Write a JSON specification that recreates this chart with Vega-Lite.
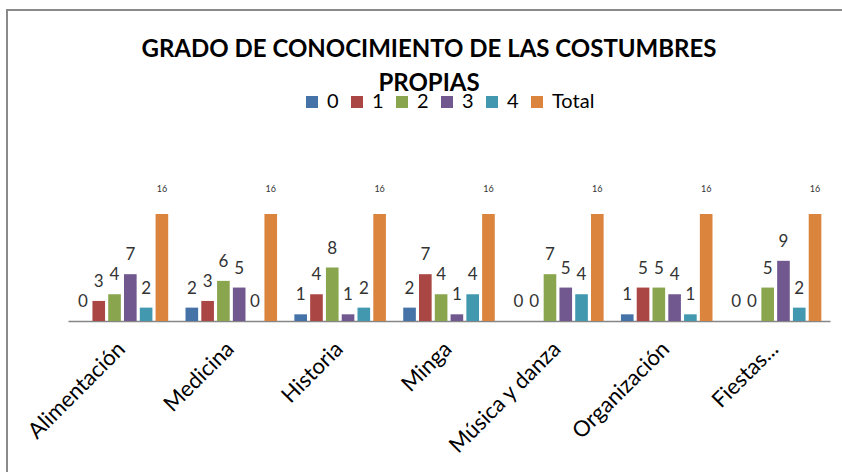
{
  "$schema": "https://vega.github.io/schema/vega-lite/v6.json",
  "autosize": "none",
  "width": 836,
  "height": 463,
  "padding": {"left": 7, "top": 10, "right": 0, "bottom": 0},
  "background": "#ffffff",
  "config": {
    "font": "Lato",
    "view": {"stroke": "#8a8a8a", "strokeWidth": 2}
  },
  "title": {
    "text": ["GRADO DE CONOCIMIENTO DE LAS COSTUMBRES", "PROPIAS"],
    "font": "Lato",
    "fontSize": 24,
    "fontWeight": "bold",
    "color": "#000000",
    "lineHeight": 34,
    "anchor": "middle",
    "frame": "group",
    "baseline": "top",
    "offset": -86,
    "dx": 4
  },
  "data": {
    "values": [
      {"tema": "Alimentación", "serie": "0", "valor": 0},
      {"tema": "Alimentación", "serie": "1", "valor": 3},
      {"tema": "Alimentación", "serie": "2", "valor": 4},
      {"tema": "Alimentación", "serie": "3", "valor": 7},
      {"tema": "Alimentación", "serie": "4", "valor": 2},
      {"tema": "Alimentación", "serie": "Total", "valor": 16},
      {"tema": "Medicina", "serie": "0", "valor": 2},
      {"tema": "Medicina", "serie": "1", "valor": 3},
      {"tema": "Medicina", "serie": "2", "valor": 6},
      {"tema": "Medicina", "serie": "3", "valor": 5},
      {"tema": "Medicina", "serie": "4", "valor": 0},
      {"tema": "Medicina", "serie": "Total", "valor": 16},
      {"tema": "Historia", "serie": "0", "valor": 1},
      {"tema": "Historia", "serie": "1", "valor": 4},
      {"tema": "Historia", "serie": "2", "valor": 8},
      {"tema": "Historia", "serie": "3", "valor": 1},
      {"tema": "Historia", "serie": "4", "valor": 2},
      {"tema": "Historia", "serie": "Total", "valor": 16},
      {"tema": "Minga", "serie": "0", "valor": 2},
      {"tema": "Minga", "serie": "1", "valor": 7},
      {"tema": "Minga", "serie": "2", "valor": 4},
      {"tema": "Minga", "serie": "3", "valor": 1},
      {"tema": "Minga", "serie": "4", "valor": 4},
      {"tema": "Minga", "serie": "Total", "valor": 16},
      {"tema": "Música y danza", "serie": "0", "valor": 0},
      {"tema": "Música y danza", "serie": "1", "valor": 0},
      {"tema": "Música y danza", "serie": "2", "valor": 7},
      {"tema": "Música y danza", "serie": "3", "valor": 5},
      {"tema": "Música y danza", "serie": "4", "valor": 4},
      {"tema": "Música y danza", "serie": "Total", "valor": 16},
      {"tema": "Organización", "serie": "0", "valor": 1},
      {"tema": "Organización", "serie": "1", "valor": 5},
      {"tema": "Organización", "serie": "2", "valor": 5},
      {"tema": "Organización", "serie": "3", "valor": 4},
      {"tema": "Organización", "serie": "4", "valor": 1},
      {"tema": "Organización", "serie": "Total", "valor": 16},
      {"tema": "Fiestas...", "serie": "0", "valor": 0},
      {"tema": "Fiestas...", "serie": "1", "valor": 0},
      {"tema": "Fiestas...", "serie": "2", "valor": 5},
      {"tema": "Fiestas...", "serie": "3", "valor": 9},
      {"tema": "Fiestas...", "serie": "4", "valor": 2},
      {"tema": "Fiestas...", "serie": "Total", "valor": 16}
    ]
  },
  "encoding": {
    "x": {
      "field": "tema",
      "type": "nominal",
      "sort": null,
      "scale": {"range": [61, 823], "paddingInner": 0.13, "paddingOuter": 0.065},
      "axis": {
        "title": null,
        "orient": "bottom",
        "offset": -152,
        "labelAngle": -45,
        "labelFontSize": 22,
        "labelColor": "#000000",
        "labelPadding": 17,
        "labelOffset": -8,
        "labelBaseline": "top",
        "ticks": false,
        "domainColor": "#868686",
        "domainWidth": 1.5
      }
    },
    "xOffset": {
      "field": "serie",
      "type": "nominal",
      "scale": {"paddingInner": 0.2, "paddingOuter": 0.1}
    },
    "y": {
      "field": "valor",
      "type": "quantitative",
      "scale": {"domain": [0, 16], "range": [311, 204], "nice": false, "zero": true},
      "axis": null
    }
  },
  "layer": [
    {
      "mark": {"type": "bar"},
      "encoding": {
        "color": {
          "field": "serie",
          "type": "nominal",
          "scale": {
            "domain": ["0", "1", "2", "3", "4", "Total"],
            "range": ["#4572A7", "#AA4643", "#89A54E", "#71588F", "#4198AF", "#DB843D"]
          },
          "legend": {
            "title": null,
            "orient": "none",
            "direction": "horizontal",
            "columns": 6,
            "legendX": 295,
            "legendY": 82,
            "padding": 0,
            "symbolType": "square",
            "symbolSize": 144,
            "symbolStrokeWidth": 0,
            "symbolOpacity": 1,
            "labelFontSize": 20,
            "labelColor": "#000000",
            "labelOffset": 5,
            "columnPadding": 8
          }
        }
      }
    },
    {
      "transform": [{"filter": "datum.serie !== 'Total'"}],
      "mark": {"type": "text", "baseline": "alphabetic", "dy": -14, "fontSize": 17, "color": "#333333"},
      "encoding": {"text": {"field": "valor", "type": "quantitative"}}
    },
    {
      "transform": [{"filter": "datum.serie === 'Total'"}],
      "mark": {"type": "text", "baseline": "alphabetic", "dy": -22, "fontSize": 9, "color": "#333333"},
      "encoding": {"text": {"field": "valor", "type": "quantitative"}}
    }
  ]
}
